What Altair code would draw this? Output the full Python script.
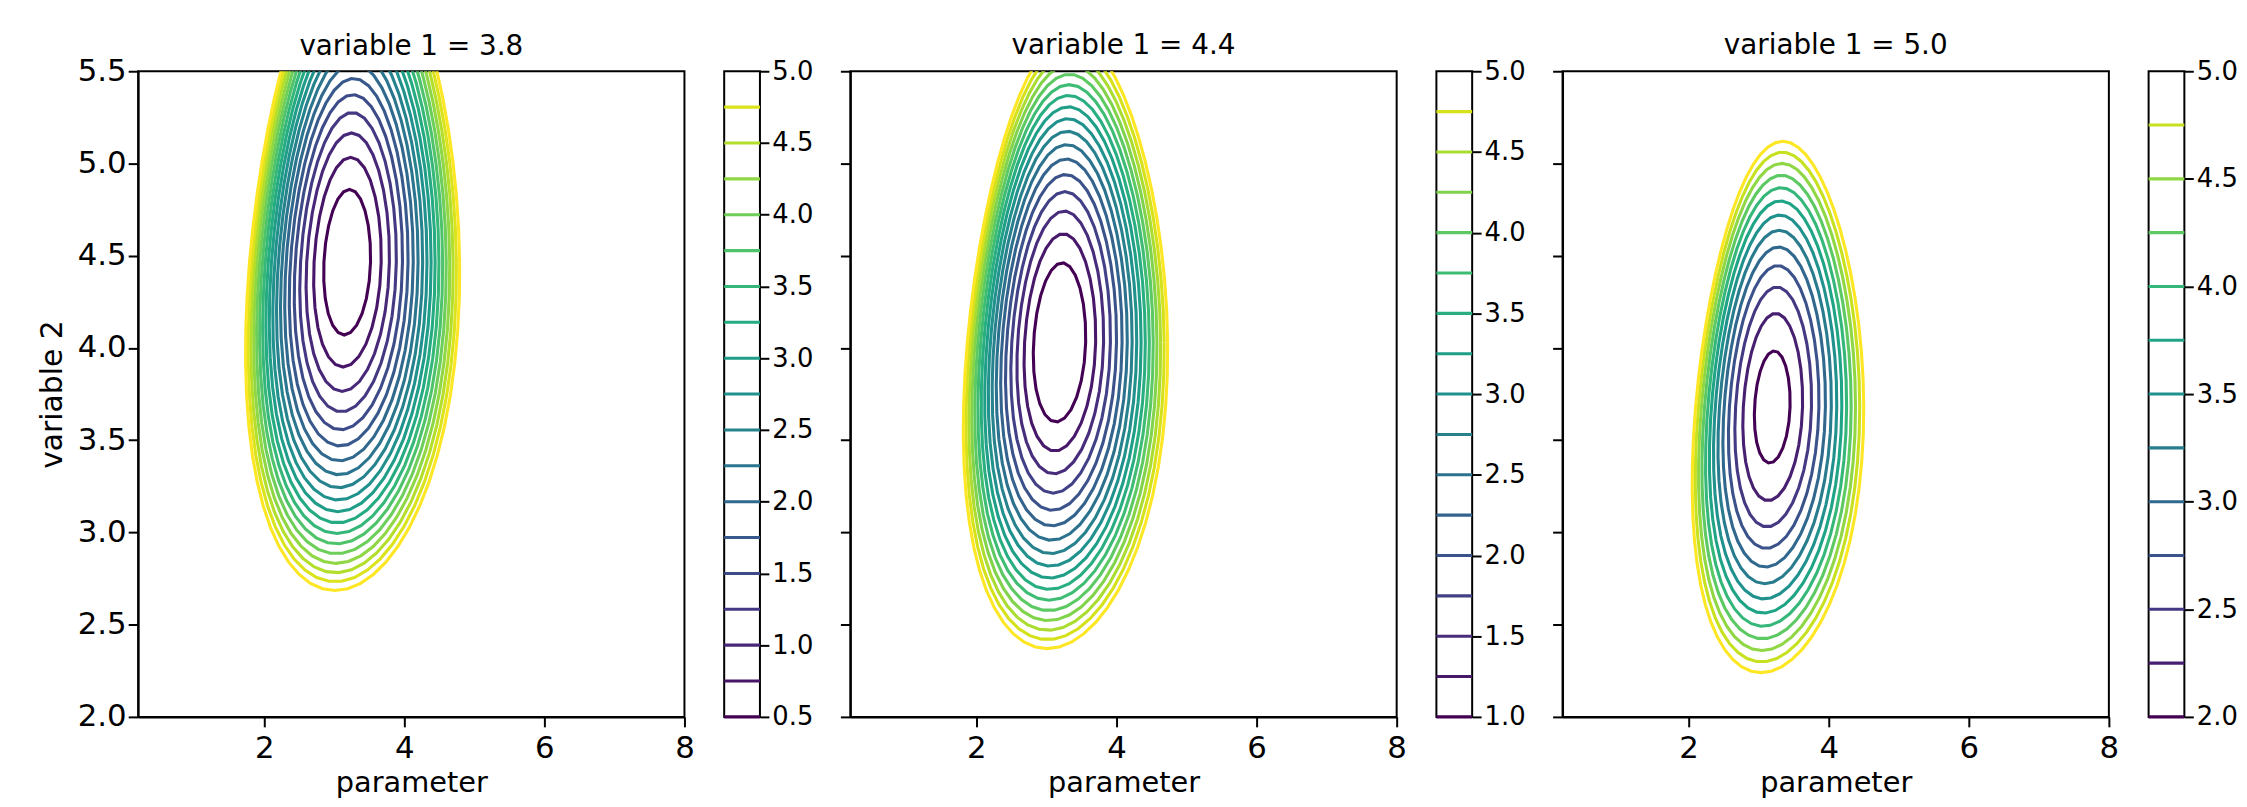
import numpy as np
import pandas as pd
import altair as alt

# ---------------- data ----------------
variable1_values = [3.8, 4.4, 5.0]

levels_p1 = [0.5, 0.75, 1.0, 1.25, 1.5, 1.75, 2.0, 2.25, 2.5, 2.75, 3.0, 3.25,
             3.5, 3.75, 4.0, 4.25, 4.5, 4.75, 5.0]
levels_p2 = [1.0, 1.25, 1.5, 1.75, 2.0, 2.25, 2.5, 2.75, 3.0, 3.25, 3.5, 3.75,
             4.0, 4.25, 4.5, 4.75, 5.0]
levels_p3 = [2.0, 2.25, 2.5, 2.75, 3.0, 3.25, 3.5, 3.75, 4.0, 4.25, 4.5, 4.75, 5.0]

cbar_ticks_p1 = [0.5, 1.0, 1.5, 2.0, 2.5, 3.0, 3.5, 4.0, 4.5, 5.0]
cbar_ticks_p2 = [1.0, 1.5, 2.0, 2.5, 3.0, 3.5, 4.0, 4.5, 5.0]
cbar_ticks_p3 = [2.0, 2.5, 3.0, 3.5, 4.0, 4.5, 5.0]

x_ticks = [2, 4, 6, 8]
y_ticks = [2.0, 2.5, 3.0, 3.5, 4.0, 4.5, 5.0, 5.5]

# geometry of each contour family (centre of the innermost ring, minimum
# value of the surface, and shape of the outermost ring)
centre_parameter = [3.18, 3.18, 3.19]
centre_variable2 = [4.465, 4.03, 3.68]
minimum_value = [0.267, 0.71, 1.86]
outer_half_height = [1.78, 1.66, 1.44]
outer_half_width = [1.50, 1.43, 1.20]
outer_top_shift = [0.17, 0.17, 0.155]
outer_right_bulge = [0.11, 0.12, 0.11]
outer_taper = [0.15, 0.15, 0.14]

all_levels = [levels_p1, levels_p2, levels_p3]
all_cbar_ticks = [cbar_ticks_p1, cbar_ticks_p2, cbar_ticks_p3]

FONT = "DejaVu Sans"
PW, PH = 550, 650
CBW = 36
LW = 3.1
TICK_FS = 31
CB_FS = 26
TITLE_FS = 28
XTITLE_FS = 29
YTITLE_FS = 30


def contour_table(i):
    lv = all_levels[i]
    top = lv[-1]
    f0 = minimum_value[i]
    rows = []
    for L in lv:
        r = np.sqrt((L - f0) / (top - f0))
        n = int(14 + 46 * r)
        t = np.linspace(0.0, 2.0 * np.pi, n + 1)
        s, c = np.sin(t), np.cos(t)
        x = (centre_parameter[i]
             + r * (outer_half_width[i] * c * (1 - outer_taper[i] * r * s)
                    + outer_top_shift[i] * s)
             + r * r * outer_right_bulge[i] * c * c)
        y = centre_variable2[i] + r * outer_half_height[i] * s
        for k in range(len(t)):
            rows.append({"parameter": x[k], "variable 2": y[k], "level": L, "k": k})
    return pd.DataFrame(rows)


def panel(i):
    lv = all_levels[i]
    df = contour_table(i)
    first = i == 0
    yaxis = alt.Axis(
        values=y_ticks, format=".1f", labels=first,
        title="variable 2" if first else None,
        grid=False, tickSize=10, tickWidth=2, tickColor="black",
        domainColor="black", domainWidth=2, labelFontSize=TICK_FS, labelFont=FONT,
        labelColor="black", labelPadding=2, titleFont=FONT, titleFontSize=YTITLE_FS,
        titleFontWeight="normal", titleColor="black", titlePadding=10,
    )
    xaxis = alt.Axis(
        values=x_ticks, format="d", title="parameter", grid=False,
        tickSize=10, tickWidth=2, tickColor="black", domainColor="black",
        domainWidth=2, labelFontSize=TICK_FS, labelFont=FONT, labelColor="black",
        labelPadding=7, titleFont=FONT, titleFontSize=XTITLE_FS,
        titleFontWeight="normal", titleColor="black", titlePadding=5,
        labelFlush=False,
    )
    return alt.Chart(df).mark_line(clip=True, strokeWidth=LW).encode(
        x=alt.X("parameter:Q", scale=alt.Scale(domain=[0.2, 8.0], nice=False, zero=False), axis=xaxis),
        y=alt.Y("variable 2:Q", scale=alt.Scale(domain=[2.0, 5.5], nice=False, zero=False), axis=yaxis),
        color=alt.Color("level:Q", scale=alt.Scale(scheme="viridis", domain=[lv[0], lv[-1]]), legend=None),
        detail="level:N",
        order="k:Q",
    ).properties(
        width=PW, height=PH,
        title=alt.TitleParams(f"variable 1 = {variable1_values[i]}", font=FONT,
                              fontSize=TITLE_FS, fontWeight="normal", color="black",
                              offset=(10 - TICK_FS / 2) if first else 10,
                              anchor="middle"),
    )


def colorbar(i):
    lv = all_levels[i]
    df = pd.DataFrame({"level": lv[:-1]})
    yaxis = alt.Axis(
        orient="right", values=all_cbar_ticks[i], format=".1f", title=None,
        grid=False, tickSize=9, tickWidth=2, tickColor="black",
        domain=False, labelFontSize=CB_FS, labelFont=FONT, labelColor="black",
        labelPadding=3,
    )
    return alt.Chart(df).mark_rule(strokeWidth=LW).encode(
        y=alt.Y("level:Q", scale=alt.Scale(domain=[lv[0], lv[-1]], nice=False, zero=False), axis=yaxis),
        color=alt.Color("level:Q", scale=alt.Scale(scheme="viridis", domain=[lv[0], lv[-1]]), legend=None),
    ).properties(width=CBW, height=PH)


groups = [alt.hconcat(panel(i), colorbar(i), spacing=26) for i in range(3)]
chart = alt.hconcat(*groups, spacing=24).properties(
    padding={"left": 28, "top": 21, "right": 0, "bottom": 0}
).configure_view(
    stroke="black", strokeWidth=2
).resolve_scale(color="independent")

chart.save("out.html", embed_options={"renderer": "svg", "actions": False})
